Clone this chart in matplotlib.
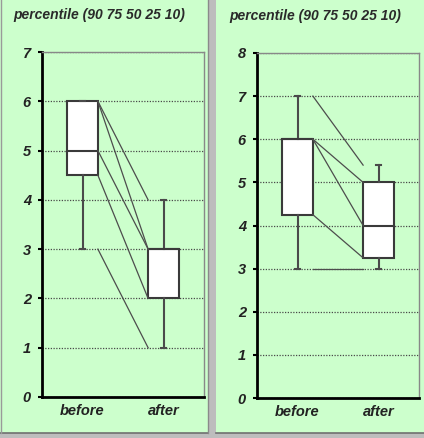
import matplotlib
matplotlib.use("Agg")
import matplotlib.pyplot as plt
from matplotlib.patches import Rectangle

# Data: percentiles (90, 75, 50, 25, 10)
categories = ["before", "after"]
percentiles = [90, 75, 50, 25, 10]
left_before = [6, 6, 5, 4.5, 3]
left_after = [4, 3, 3, 2, 1]
right_before = [7, 6, 6, 4.25, 3]
right_after = [5.4, 5, 4, 3.25, 3]
left_yticks = [0, 1, 2, 3, 4, 5, 6, 7]
right_yticks = [0, 1, 2, 3, 4, 5, 6, 7, 8]
title_text = "percentile (90 75 50 25 10)"

W, H = 424, 438
fig = plt.figure(figsize=(W / 100, H / 100), dpi=100, facecolor="#bdbdbd")

GREEN = "#ccffcc"
font = dict(family="Liberation Sans", weight="bold", style="italic")

# panel backgrounds
for x0, x1 in [(0, 208), (216, 424)]:
    fig.patches.append(Rectangle((x0 / W, 1 - 433 / H), (x1 - x0) / W, 433 / H,
                                 transform=fig.transFigure, facecolor=GREEN,
                                 edgecolor="none", zorder=-5))
    fig.lines.append(plt.Line2D([x0 / W, x1 / W], [1 - 433 / H, 1 - 433 / H],
                                transform=fig.transFigure, color="#707070",
                                lw=1.2, zorder=-4))
fig.lines.append(plt.Line2D([208 / W, 208 / W], [1 - 433 / H, 1],
                            transform=fig.transFigure, color="#8a8a8a", lw=1.0,
                            zorder=-4))
fig.lines.append(plt.Line2D([1 / W, 1 / W], [1 - 433 / H, 1],
                            transform=fig.transFigure, color="#9a9a9a", lw=1.0,
                            zorder=-4))


def make_panel(rect, before, after, yticks, title_x, title_y):
    ax = fig.add_axes(rect)
    ax.set_zorder(1)
    ax.set_facecolor(GREEN)
    ax.set_xlim(0, 2)
    ax.set_ylim(yticks[0], yticks[-1])
    w = 0.38
    pos = [0.5, 1.5]
    stats = []
    for vals, lab in zip([before, after], categories):
        stats.append(dict(whishi=vals[0], q3=vals[1], med=vals[2], q1=vals[3],
                          whislo=vals[4], fliers=[], label=lab))
    ax.bxp(stats, positions=pos, widths=w, patch_artist=True, showfliers=False,
           capwidths=0.05,
           boxprops=dict(facecolor="white", edgecolor="#3a3a3a", linewidth=1.5),
           medianprops=dict(color="#3a3a3a", linewidth=1.5),
           whiskerprops=dict(color="#4a4a4a", linewidth=1.5),
           capprops=dict(color="#4a4a4a", linewidth=1.5), zorder=3)
    for b, a in zip(before, after):
        ax.plot([pos[0] + w / 2, pos[1] - w / 2], [b, a], color="#4d4d4d",
                lw=0.9, zorder=4)
    ax.set_yticks(yticks)
    ax.set_yticklabels([str(t) for t in yticks], fontsize=10.5,
                       color="#222222", **font)
    ax.set_xticks(pos)
    ax.set_xticklabels(categories, fontsize=10.5, color="#222222", **font)
    ax.tick_params(axis="x", length=0, pad=5)
    ax.tick_params(axis="y", length=3, width=1.5, pad=5, direction="out")
    ax.grid(axis="y", linestyle=(0, (1, 1.2)), color="#4a4a4a", lw=0.9, zorder=1)
    ax.set_axisbelow(True)
    for s in ["left", "bottom"]:
        ax.spines[s].set_color("black")
        ax.spines[s].set_linewidth(2)
    for s in ["top", "right"]:
        ax.spines[s].set_color("#888888")
        ax.spines[s].set_linewidth(1)
    fig.text(title_x / W, 1 - title_y / H, title_text, fontsize=10, va="center",
             ha="left", color="#2a2a2a", **font)
    return ax


make_panel([42 / W, 1 - 397 / H, 162 / W, 345 / H], left_before, left_after,
           left_yticks, 13, 15)
make_panel([257 / W, 1 - 398 / H, 162 / W, 345 / H], right_before, right_after,
           right_yticks, 229, 16)

fig.savefig("out.png", dpi=100, facecolor=fig.get_facecolor())
